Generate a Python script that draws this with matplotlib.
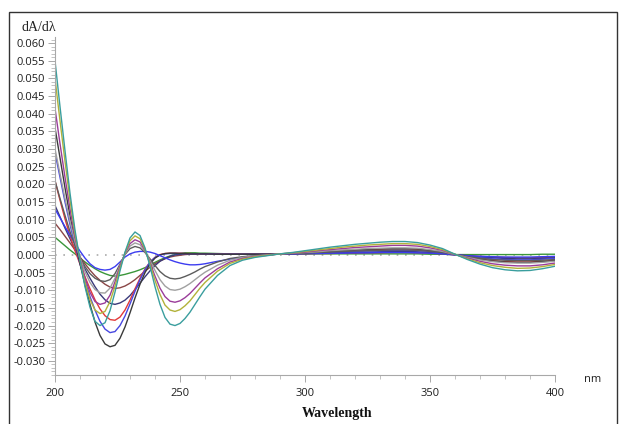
import matplotlib.pyplot as plt
from matplotlib.patches import Rectangle
from matplotlib.ticker import MultipleLocator, FormatStrFormatter

plt.rcParams['axes.unicode_minus'] = False

# wavelength grid (nm): fine steps over the sharp bands, coarser further out
wavelength = list(range(200, 262, 2)) + list(range(265, 405, 5))

# first-derivative spectra, dA/dλ in units of 1e-3
teal = [55.0, 42.0, 29.5, 17.5, 7.0, -1.5, -9.0, -14.8, -18.8, -20.0, -19.2, -15.8, -10.5, -4.5, 0.8, 4.8, 6.5, 5.5, 2.0, -3.2, -9.0, -14.0, -17.7, -19.6, -20.0, -19.4, -18.0, -16.2, -14.0, -11.8, -9.7,
        -5.8, -3.0, -1.5, -0.7, -0.2, 0.3, 0.7, 1.2, 1.7, 2.2, 2.6, 3.0, 3.3, 3.6, 3.8, 3.8, 3.5, 2.8, 1.8, 0.2, -1.3, -2.6, -3.6, -4.2, -4.5, -4.4, -3.9, -3.2]
olive = [50.0, 38.0, 26.5, 15.5, 6.0, -1.5, -7.8, -12.6, -15.6, -16.6, -16.0, -13.2, -8.8, -3.8, 0.6, 4.0, 5.4, 4.6, 1.6, -2.6, -7.2, -11.2, -14.2, -15.6, -16.0, -15.5, -14.4, -13.0, -11.2, -9.4, -7.8,
         -4.6, -2.4, -1.2, -0.5, -0.1, 0.3, 0.6, 1.0, 1.4, 1.8, 2.2, 2.5, 2.8, 3.0, 3.2, 3.2, 3.0, 2.4, 1.5, 0.2, -1.1, -2.2, -3.0, -3.5, -3.8, -3.7, -3.3, -2.7]
purple = [41.5, 31.5, 22.0, 13.0, 5.0, -1.2, -6.5, -10.6, -13.2, -14.0, -13.6, -11.4, -7.6, -3.2, 0.5, 3.2, 4.3, 3.7, 1.3, -2.2, -6.0, -9.4, -11.8, -13.1, -13.4, -13.0, -12.1, -10.9, -9.4, -7.9, -6.5,
          -3.9, -2.0, -1.0, -0.4, -0.1, 0.3, 0.5, 0.8, 1.2, 1.5, 1.8, 2.1, 2.3, 2.5, 2.7, 2.7, 2.5, 2.0, 1.3, 0.1, -0.9, -1.8, -2.5, -2.9, -3.1, -3.1, -2.8, -2.3]
grey = [30.0, 23.0, 16.0, 9.5, 3.8, -0.8, -4.8, -7.8, -9.8, -10.7, -10.8, -9.4, -6.6, -3.0, 0.3, 2.5, 3.4, 2.9, 1.0, -1.6, -4.4, -7.0, -8.8, -9.8, -10.0, -9.7, -9.0, -8.1, -7.0, -5.9, -4.9,
        -2.9, -1.5, -0.7, -0.3, 0.0, 0.3, 0.5, 0.7, 0.9, 1.2, 1.4, 1.6, 1.8, 1.9, 2.0, 2.0, 1.9, 1.5, 1.0, 0.1, -0.7, -1.4, -1.9, -2.2, -2.3, -2.3, -2.1, -1.8]
dark_grey = [21.0, 16.0, 11.2, 6.6, 2.6, -0.6, -3.3, -5.3, -6.6, -7.3, -7.5, -7.0, -5.3, -2.6, 0.1, 1.8, 2.4, 2.0, 0.7, -1.1, -3.0, -4.7, -5.9, -6.6, -6.8, -6.6, -6.1, -5.5, -4.8, -4.0, -3.3,
             -2.0, -1.0, -0.5, -0.2, 0.1, 0.3, 0.4, 0.5, 0.7, 0.8, 1.0, 1.1, 1.2, 1.3, 1.4, 1.4, 1.3, 1.0, 0.7, 0.1, -0.5, -0.9, -1.3, -1.5, -1.6, -1.6, -1.5, -1.3]
light_blue = [13.0, 10.5, 8.0, 5.6, 3.3, 1.1, -0.9, -2.5, -3.6, -4.1, -4.3, -4.1, -3.3, -2.0, -0.6, 0.3, 0.8, 1.0, 1.0, 0.8, 0.4, -0.2, -0.8, -1.4, -1.9, -2.3, -2.6, -2.8, -2.8, -2.7, -2.5,
              -1.8, -1.2, -0.7, -0.3, 0.0, 0.3, 0.3, 0.4, 0.4, 0.5, 0.5, 0.6, 0.6, 0.7, 0.7, 0.7, 0.6, 0.5, 0.3, 0.0, -0.2, -0.4, -0.5, -0.6, -0.6, -0.6, -0.5, -0.4]
black = [36.0, 27.5, 19.0, 11.0, 4.0, -2.5, -8.5, -14.0, -19.0, -22.8, -25.2, -26.0, -25.6, -23.6, -20.4, -16.4, -12.2, -8.3, -5.0, -2.5, -0.9, 0.0, 0.4, 0.5, 0.5, 0.4, 0.4, 0.3, 0.3, 0.3, 0.3,
         0.2, 0.2, 0.2, 0.2, 0.2, 0.3, 0.4, 0.6, 0.8, 1.0, 1.2, 1.4, 1.6, 1.7, 1.8, 1.8, 1.7, 1.3, 0.8, 0.1, -0.6, -1.2, -1.7, -2.0, -2.1, -2.1, -1.9, -1.6]
blue = [29.0, 22.0, 15.0, 8.6, 2.8, -2.5, -7.4, -11.8, -15.6, -18.8, -21.0, -22.0, -21.7, -20.0, -17.3, -13.9, -10.3, -7.0, -4.2, -2.0, -0.7, 0.0, 0.3, 0.4, 0.4, 0.4, 0.4, 0.3, 0.3, 0.3, 0.3,
        0.2, 0.2, 0.2, 0.2, 0.2, 0.3, 0.4, 0.5, 0.6, 0.8, 0.9, 1.0, 1.1, 1.2, 1.3, 1.3, 1.2, 1.0, 0.6, 0.1, -0.4, -0.8, -1.1, -1.3, -1.4, -1.4, -1.2, -1.0]
red = [21.0, 15.5, 10.2, 5.4, 1.2, -2.6, -6.2, -9.6, -12.7, -15.3, -17.2, -18.3, -18.5, -17.6, -15.6, -12.8, -9.6, -6.6, -4.0, -2.0, -0.7, 0.1, 0.4, 0.5, 0.5, 0.5, 0.4, 0.4, 0.3, 0.3, 0.3,
       0.2, 0.2, 0.2, 0.2, 0.2, 0.3, 0.4, 0.6, 0.8, 1.0, 1.2, 1.4, 1.5, 1.6, 1.7, 1.7, 1.6, 1.3, 0.8, 0.1, -0.6, -1.2, -1.6, -1.9, -2.0, -2.0, -1.8, -1.5]
navy = [14.0, 10.8, 7.6, 4.6, 1.6, -1.3, -4.0, -6.6, -9.0, -11.1, -12.7, -13.7, -14.0, -13.6, -12.8, -11.5, -9.8, -8.0, -6.2, -4.5, -3.0, -1.8, -1.0, -0.4, 0.0, 0.2, 0.3, 0.3, 0.3, 0.3, 0.3,
        0.2, 0.2, 0.2, 0.2, 0.2, 0.3, 0.3, 0.4, 0.5, 0.6, 0.7, 0.8, 0.8, 0.9, 1.0, 1.0, 0.9, 0.7, 0.5, 0.1, -0.3, -0.6, -0.8, -1.0, -1.1, -1.1, -1.0, -0.8]
brown = [9.0, 7.2, 5.3, 3.4, 1.4, -0.6, -2.5, -4.3, -5.9, -7.2, -8.3, -9.1, -9.5, -9.3, -8.8, -8.0, -7.0, -5.8, -4.6, -3.5, -2.5, -1.7, -1.1, -0.6, -0.3, -0.1, 0.1, 0.2, 0.2, 0.2, 0.2,
         0.2, 0.2, 0.2, 0.2, 0.2, 0.3, 0.3, 0.3, 0.4, 0.4, 0.5, 0.5, 0.6, 0.6, 0.7, 0.7, 0.6, 0.5, 0.3, 0.0, -0.2, -0.4, -0.6, -0.7, -0.8, -0.8, -0.7, -0.6]
green = [5.0, 3.8, 2.6, 1.4, 0.3, -0.9, -2.0, -3.0, -3.9, -4.7, -5.3, -5.8, -6.0, -5.8, -5.5, -5.1, -4.7, -4.2, -3.6, -2.9, -2.1, -1.4, -0.8, -0.3, 0.1, 0.4, 0.6, 0.6, 0.6, 0.5, 0.5,
         0.4, 0.3, 0.3, 0.3, 0.3, 0.3, 0.3, 0.3, 0.3, 0.3, 0.3, 0.3, 0.3, 0.3, 0.3, 0.3, 0.3, 0.2, 0.2, 0.1, 0.1, 0.1, 0.1, 0.1, 0.1, 0.1, 0.2, 0.2]

series = [
    (green, '#3a963a'),
    (brown, '#8a4646'),
    (navy, '#3a3a7a'),
    (red, '#e23a3a'),
    (blue, '#4848e0'),
    (black, '#3a3a3a'),
    (light_blue, '#3c3cf0'),
    (dark_grey, '#5c5c5c'),
    (grey, '#a0a0a0'),
    (purple, '#9a3c9a'),
    (olive, '#b2b23a'),
    (teal, '#3a9e9e'),
]

fig = plt.figure(figsize=(6.21, 4.24), dpi=100)
ax = fig.add_axes([55 / 621, 1 - 375 / 424, 500 / 621, (375 - 36.7) / 424])

ax.axhline(0, color='#aaaaaa', lw=1.2, ls=(0, (1, 4)), zorder=1)
for values, color in series:
    ax.plot(wavelength, [v * 1e-3 for v in values], color=color, lw=1.0, zorder=2)

ax.set_xlim(200, 400)
ax.set_ylim(-0.034, 0.0618)
ax.xaxis.set_major_locator(MultipleLocator(50))
ax.xaxis.set_minor_locator(MultipleLocator(10))
ax.yaxis.set_major_locator(MultipleLocator(0.005))
ax.yaxis.set_minor_locator(MultipleLocator(0.001))
ax.yaxis.set_major_formatter(FormatStrFormatter('%.3f'))

for side in ('top', 'right'):
    ax.spines[side].set_visible(False)
for side in ('left', 'bottom'):
    ax.spines[side].set_color('#a8a8a8')
    ax.spines[side].set_linewidth(0.8)

ax.tick_params(which='major', length=5, width=0.7, color='#a8a8a8', pad=2,
               labelcolor='#1e1e1e')
ax.tick_params(which='minor', length=3, width=0.6, color='#b8b8b8')
for lab in ax.get_xticklabels() + ax.get_yticklabels():
    lab.set_fontfamily('Open Sans')
    lab.set_fontsize(8)
ax.tick_params(axis='x', pad=4)

fig.text(22 / 621, 1 - 31 / 424, 'dA/dλ', family='Liberation Serif', size=10,
         color='#222222', ha='left', va='baseline')
fig.text(584 / 621, 1 - 380 / 424, 'nm', family='Open Sans', size=8,
         color='#1e1e1e', ha='left', va='center')
fig.text(337 / 621, 1 - 413 / 424, 'Wavelength', family='Liberation Serif',
         weight='bold', size=10, color='#111111', ha='center', va='center')

# thin frame around the whole figure
fig.patches.append(Rectangle((9 / 621, -0.02), 608 / 621, (424 - 12) / 424 + 0.02,
                             transform=fig.transFigure, fill=False,
                             edgecolor='#333333', lw=1.0))

fig.savefig('out.png', dpi=100)
